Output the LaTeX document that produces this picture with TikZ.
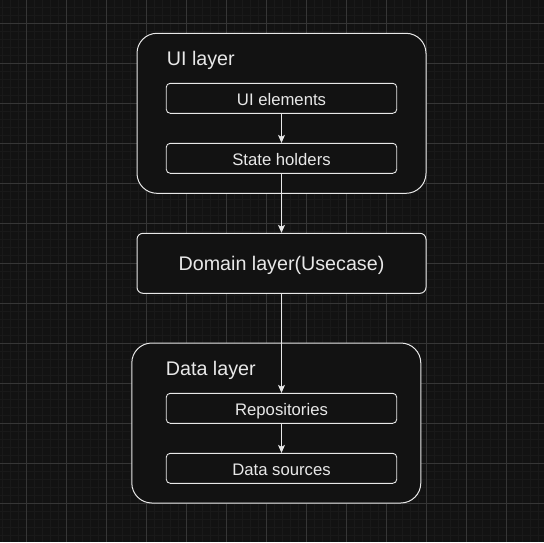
\documentclass[tikz,border=0pt]{standalone}
\usepackage{fontspec}
\setmainfont{Liberation Sans}
\usetikzlibrary{arrows.meta, positioning}
\definecolor{canvas}{RGB}{18, 18, 18}
\definecolor{gridmajor}{RGB}{54, 54, 54}
\definecolor{gridminor}{RGB}{25, 25, 25}
\definecolor{ink}{RGB}{232, 232, 232}

\begin{document}
\begin{tikzpicture}[x=1pt, y=-1pt,
  layerbox/.style={draw=ink, fill=canvas, line width=1pt, rounded corners=20pt, minimum width=289pt, minimum height=160pt, inner sep=0pt},
  domainbox/.style={draw=ink, fill=canvas, line width=1pt, rounded corners=6pt, minimum width=289pt, minimum height=60pt, inner sep=0pt, text height=13.4pt, text depth=0pt, text=ink, font=\fontsize{19.7}{22}\selectfont},
  itembox/.style={draw=ink, fill=canvas, line width=0.9pt, rounded corners=4pt, minimum width=230.5pt, minimum height=30pt, inner sep=0pt, text height=14pt, text depth=0pt, text=ink, font=\fontsize{16.7}{19}\selectfont},
  layertitle/.style={anchor=base west, inner sep=0pt, text=ink, font=\fontsize{19.7}{22}\selectfont},
  flow/.style={draw=ink, line width=0.9pt, -{Stealth[width=7pt, length=8pt, inset=2pt]}}
]
  % canvas and grid
  \fill[canvas] (0,0) rectangle (544,542);
  \useasboundingbox (0,0) rectangle (544,542);
  \foreach \x in {2.5,10.5,...,543} \draw[gridminor, line width=0.6pt] (\x,0) -- (\x,542);
  \foreach \y in {7.5,15.5,...,542} \draw[gridminor, line width=0.6pt] (0,\y) -- (544,\y);
  \foreach \x in {26.5,66.5,...,543} \draw[gridmajor, line width=0.7pt] (\x,0) -- (\x,542);
  \foreach \y in {23.5,63.5,...,542} \draw[gridmajor, line width=0.7pt] (0,\y) -- (544,\y);

  % UI layer
  \node[layerbox] (ui) at (281.5, 113.3) {};
  \node[layertitle] (uititle) at (166.7, 65) {UI layer};
  \node[itembox] (elements) at (281.5, 98.3) {UI elements};
  \node[itembox] (holders) at (281.5, 158.3) {State holders};

  % Domain layer
  \node[domainbox] (domain) at (281.5, 263.3) {Domain layer(Usecase)};

  % Data layer
  \node[layerbox] (data) at (276.3, 423) {};
  \node[layertitle] (datatitle) at (165.7, 375) {Data layer};
  \node[itembox] (repos) at (281.5, 408.3) {Repositories};
  \node[itembox] (sources) at (281.5, 468.3) {Data sources};

  % flows
  \draw[flow] (elements) -- (holders);
  \draw[flow] (holders) -- (domain);
  \draw[flow] (domain) -- (repos);
  \draw[flow] (repos) -- (sources);
\end{tikzpicture}
\end{document}
